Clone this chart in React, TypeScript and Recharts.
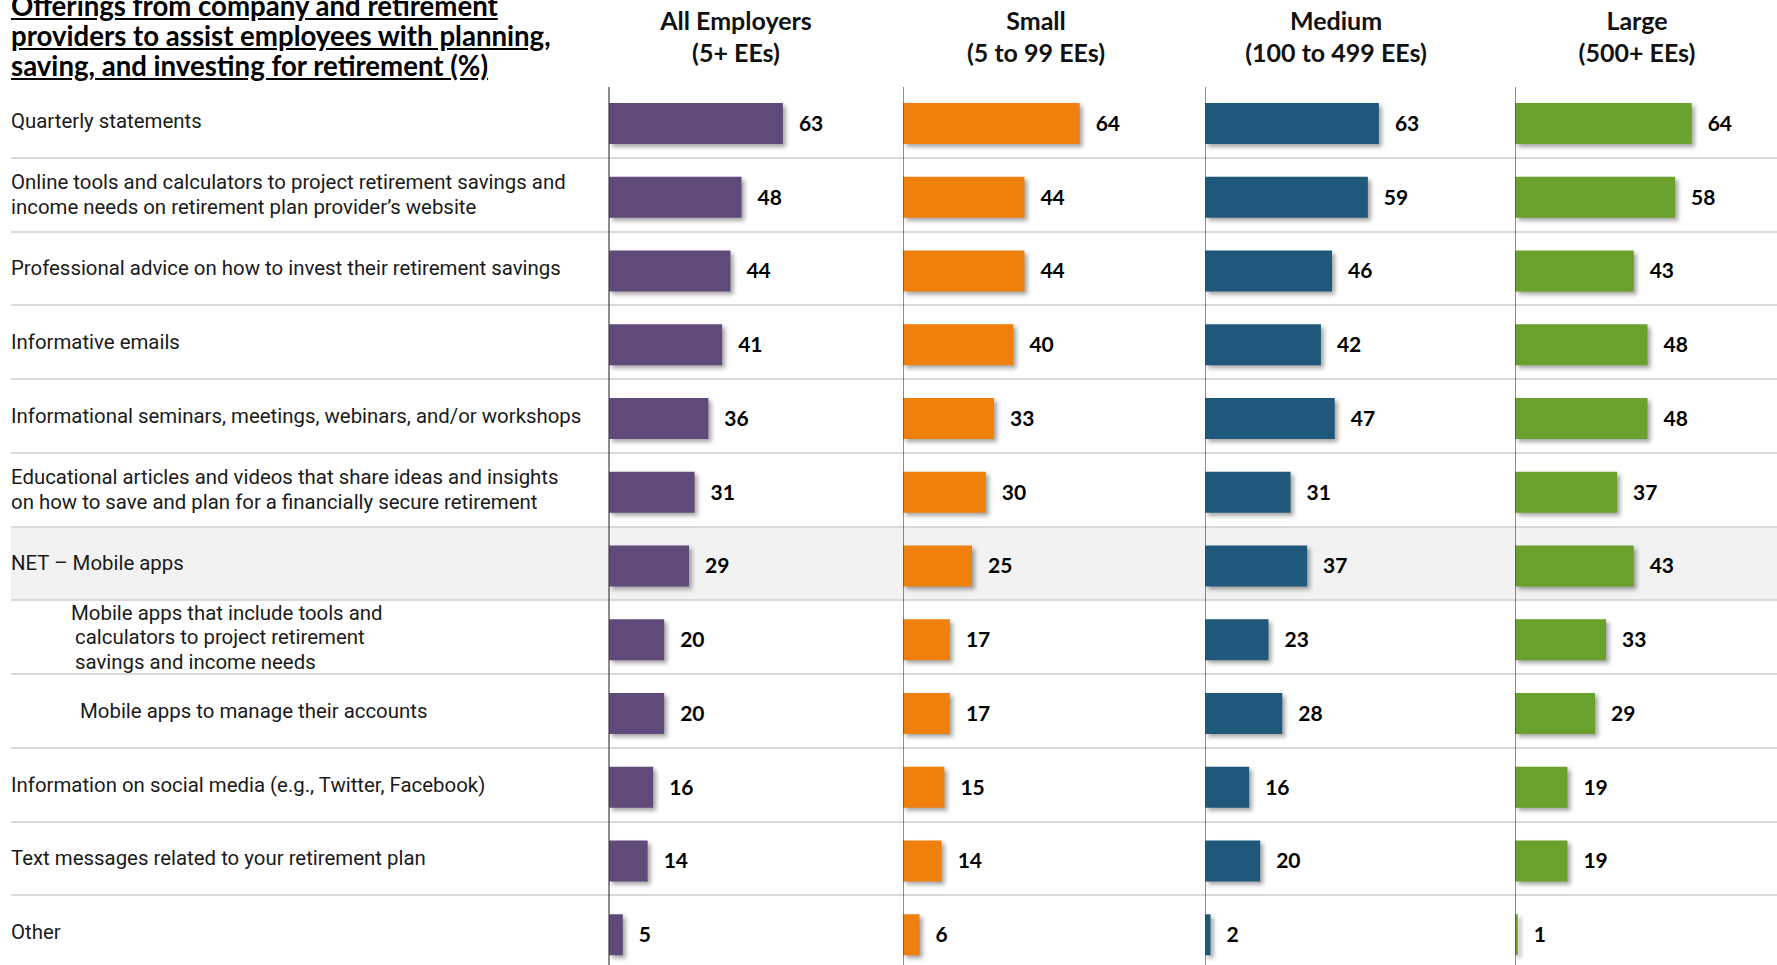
import React from "react";
import { BarChart, Bar, XAxis, YAxis, LabelList, ReferenceLine } from "recharts";

const titleLines = [
  "Offerings from company and retirement",
  "providers to assist employees with planning,",
  "saving, and investing for retirement (%)",
];

const labels = [
  "Quarterly statements",
  "Online tools and calculators to project retirement savings and\nincome needs on retirement plan provider’s website",
  "Professional advice on how to invest their retirement savings",
  "Informative emails",
  "Informational seminars, meetings, webinars, and/or workshops",
  "Educational articles and videos that share ideas and insights\non how to save and plan for a financially secure retirement",
  "NET – Mobile apps",
  "Mobile apps that include tools and\ncalculators to project retirement\nsavings and income needs",
  "Mobile apps to manage their accounts",
  "Information on social media (e.g., Twitter, Facebook)",
  "Text messages related to your retirement plan",
  "Other",
];

const allEmployers = [63, 48, 44, 41, 36, 31, 29, 20, 20, 16, 14, 5];
const small = [64, 44, 44, 40, 33, 30, 25, 17, 17, 15, 14, 6];
const medium = [63, 59, 46, 42, 47, 31, 37, 23, 28, 16, 20, 2];
const large = [64, 58, 43, 48, 48, 37, 43, 33, 29, 19, 19, 1];

const groupNames = ["All Employers", "Small", "Medium", "Large"];
const groupSizes = ["(5+ EEs)", "(5 to 99 EEs)", "(100 to 499 EEs)", "(500+ EEs)"];

const seriesKeys = ["all", "small", "medium", "large"];
const COLORS = ["#5F4A79", "#EF800C", "#1F587A", "#6AA02C"];

// layout
const W = 1777;
const H = 965;
const ROW_TOP = 84;
const ROW_H = 73.75;
const BAR_SHIFT = 3;
const AXIS_X = [609, 903, 1205, 1515];
const HEADER_X = [736, 1036, 1336, 1637];
const PLOT_W = 276; // 0..100
const SHADED_ROW = 6;
const INDENTS: Record<number, number[]> = { 7: [60, 64, 64], 8: [69] };

const data = labels.map((label, i) => ({
  label,
  all: allEmployers[i],
  small: small[i],
  medium: medium[i],
  large: large[i],
}));

const ShadowBar = (props: any) => {
  const { x, y, width, height, fill } = props;
  if (!width) return null;
  return (
    <rect
      x={x}
      y={y}
      width={width}
      height={height}
      fill={fill}
      style={{ filter: "drop-shadow(3px 3px 2px rgba(0,0,0,0.35))" }}
    />
  );
};

const RowLabel = (props: any) => {
  const { y, payload, index } = props;
  const lines = String(payload.value).split("\n");
  const ind = INDENTS[index] || [];
  return (
    <text fontFamily="Roboto, sans-serif" fontSize={20.4} fill="#1a1a1a">
      {lines.map((ln, j) => (
        <tspan
          key={j}
          x={11 + (ind[j] ?? ind[0] ?? 0)}
          y={y - BAR_SHIFT + (j - (lines.length - 1) / 2) * 24.5}
          dominantBaseline="central"
        >
          {ln}
        </tspan>
      ))}
    </text>
  );
};

const App = () => {
  return (
    <div
      style={{
        position: "absolute",
        left: 0,
        top: 0,
        width: W,
        height: H,
        overflow: "hidden",
        background: "#fff",
      }}
    >
      {/* title */}
      <div
        style={{
          position: "absolute",
          left: 11,
          top: -9,
          fontFamily: "Lato, sans-serif",
          fontWeight: 700,
          fontSize: 27.6,
          lineHeight: "30px",
          textDecoration: "underline",
          color: "#000",
          whiteSpace: "nowrap",
        }}
      >
        {titleLines.map((t) => (
          <div key={t}>{t}</div>
        ))}
      </div>

      {/* column headers */}
      {groupNames.map((g, i) => (
        <div
          key={g}
          style={{
            position: "absolute",
            left: HEADER_X[i] - 150,
            width: 300,
            top: 4,
            textAlign: "center",
            fontFamily: "Lato, sans-serif",
            fontWeight: 700,
            fontSize: 25,
            lineHeight: "32px",
            color: "#111",
          }}
        >
          <div>{g}</div>
          <div>{groupSizes[i]}</div>
        </div>
      ))}

      {/* shaded row and separators */}
      <div
        style={{
          position: "absolute",
          left: 11,
          right: 0,
          top: ROW_TOP + SHADED_ROW * ROW_H,
          height: ROW_H,
          background: "#F2F2F2",
        }}
      />
      {labels.slice(1).map((_, k) => (
        <div
          key={k}
          style={{
            position: "absolute",
            left: 11,
            right: 0,
            top: ROW_TOP + (k + 1) * ROW_H - 1,
            height: 2,
            background: "#D9D9D9",
          }}
        />
      ))}

      {/* panels */}
      {seriesKeys.map((key, i) => {
        const left = i === 0 ? 0 : AXIS_X[i];
        const yW = i === 0 ? AXIS_X[0] : 0;
        return (
          <div key={key} style={{ position: "absolute", left, top: ROW_TOP + BAR_SHIFT }}>
            <BarChart
              width={yW + PLOT_W}
              height={labels.length * ROW_H}
              data={data}
              layout="vertical"
              margin={{ top: 0, right: 0, bottom: 0, left: 0 }}
              barCategoryGap={0}
              style={{ overflow: "visible" }}
            >
              <XAxis type="number" domain={[0, 100]} hide />
              <YAxis
                type="category"
                dataKey="label"
                width={yW}
                hide={i !== 0}
                axisLine={false}
                tickLine={false}
                interval={0}
                tick={<RowLabel />}
              />
              <Bar
                dataKey={key}
                fill={COLORS[i]}
                barSize={41}
                isAnimationActive={false}
                shape={<ShadowBar />}
              >
                <LabelList
                  dataKey={key}
                  position="right"
                  offset={16}
                  fill="#000"
                  fontFamily="Lato, sans-serif"
                  fontWeight={700}
                  fontSize={21}
                />
              </Bar>
              <ReferenceLine x={0} stroke="#404040" strokeWidth={1.2} />
            </BarChart>
          </div>
        );
      })}
    </div>
  );
};

export default App;
